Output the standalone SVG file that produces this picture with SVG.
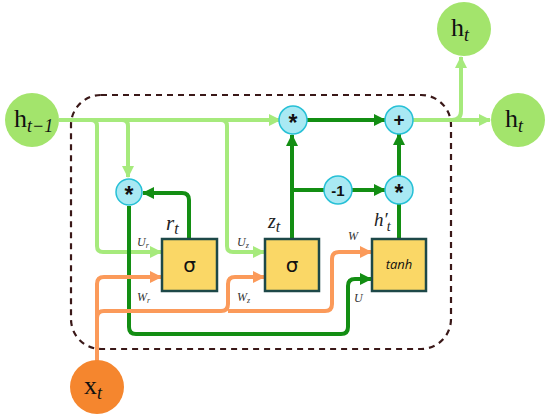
<svg xmlns="http://www.w3.org/2000/svg" width="550" height="417" viewBox="0 0 550 417">
<style>
.lg{fill:none;stroke:#a6ea7c;stroke-width:4}
.dg{fill:none;stroke:#138e13;stroke-width:4}
.or{fill:none;stroke:#fb9a5a;stroke-width:4}
.hc{fill:#a3e46c}
.op{fill:#a9e9f3;stroke:#27c0d6;stroke-width:1.5}
.box{fill:#fad766;stroke:#1d4848;stroke-width:2.5}
.opt{font-family:"Liberation Sans",Arial,sans-serif;font-weight:bold;font-size:17px;text-anchor:middle;fill:#111}
.star{font-size:23px}
.big{font-family:"Liberation Serif","DejaVu Serif",serif;font-size:26px;fill:#111}
.sub{font-style:italic;font-size:18px}
.lab{font-family:"Liberation Serif","DejaVu Serif",serif;font-style:italic;fill:#222}
.sm{font-family:"Liberation Serif","DejaVu Serif",serif;font-style:italic;font-size:12px;fill:#333}
</style>
<defs>
<marker id="aL" viewBox="0 0 12 12" markerWidth="12" markerHeight="12" refX="11" refY="6" orient="auto" markerUnits="userSpaceOnUse"><path d="M0,0 L12,6 L0,12 z" fill="#a6ea7c"/></marker>
<marker id="aD" viewBox="0 0 12 12" markerWidth="12" markerHeight="12" refX="11" refY="6" orient="auto" markerUnits="userSpaceOnUse"><path d="M0,0 L12,6 L0,12 z" fill="#138e13"/></marker>
<marker id="aO" viewBox="0 0 12 12" markerWidth="12" markerHeight="12" refX="11" refY="6" orient="auto" markerUnits="userSpaceOnUse"><path d="M0,0 L12,6 L0,12 z" fill="#fb9a5a"/></marker>
</defs>
<rect x="71" y="95" width="380" height="254" rx="30" ry="30" fill="none" stroke="#3a1818" stroke-width="2.2" stroke-dasharray="6 5"/>
<g id="connectors">
<path class="lg" d="M59,120 H280" marker-end="url(#aL)"/>
<path class="lg" d="M91,120 Q97,120 97,126 V246 Q97,252 103,252 H161" marker-end="url(#aL)"/>
<path class="lg" d="M122,120 Q128,120 128,126 V177" marker-end="url(#aL)"/>
<path class="lg" d="M221,120 Q227,120 227,126 V246 Q227,252 233,252 H264" marker-end="url(#aL)"/>
<path class="lg" d="M413,120 H490" marker-end="url(#aL)"/>
<path class="lg" d="M452,120 Q461,120 461,111 V57" marker-end="url(#aL)"/>
<path class="dg" d="M189,239 V200 Q189,193 182,193 H143" marker-end="url(#aD)"/>
<path class="dg" d="M129,206 V327 Q129,334 136,334 H341 Q348,334 348,327 V286 Q348,279 355,279 H371" marker-end="url(#aD)"/>
<path class="dg" d="M292,239 V135" marker-end="url(#aD)"/>
<path class="dg" d="M292,190 H324"/>
<path class="dg" d="M352,190 H385" marker-end="url(#aD)"/>
<path class="dg" d="M307,120 H385" marker-end="url(#aD)"/>
<path class="dg" d="M399,176 V134" marker-end="url(#aD)"/>
<path class="dg" d="M399,239 V204"/>
<path class="or" d="M97,362 V284 Q97,277 104,277 H161" marker-end="url(#aO)"/>
<path class="or" d="M97,318 Q97,311 104,311 H221 Q228,311 228,304 V284 Q228,277 235,277 H264" marker-end="url(#aO)"/>
<path class="or" d="M228,311 H325 Q332,311 332,304 V259 Q332,252 339,252 H371" marker-end="url(#aO)"/>
</g>
<g id="h_prev"><circle class="hc" cx="32" cy="120" r="27"/><text class="big" x="14" y="127">h<tspan class="sub" dy="5">t−1</tspan></text></g>
<g id="h_out_top"><circle class="hc" cx="464" cy="29" r="27"/><text class="big" x="451" y="36">h<tspan class="sub" dy="5">t</tspan></text></g>
<g id="h_out_right"><circle class="hc" cx="518" cy="120" r="27"/><text class="big" x="505" y="127">h<tspan class="sub" dy="5">t</tspan></text></g>
<g id="x_t"><circle cx="97" cy="387" r="27" fill="#f5862e"/><text class="big" x="84" y="394">x<tspan class="sub" dy="5">t</tspan></text></g>
<g id="mul_r"><circle class="op" cx="129" cy="192" r="13"/><text class="opt star" x="129" y="203">*</text></g>
<g id="mul_z"><circle class="op" cx="293" cy="120" r="14"/><text class="opt star" x="293" y="131">*</text></g>
<g id="plus"><circle class="op" cx="399" cy="120" r="14"/><text class="opt" x="399" y="126" style="font-size:19px">+</text></g>
<g id="mul_h"><circle class="op" cx="399" cy="190" r="14"/><text class="opt star" x="399" y="201">*</text></g>
<g id="neg1"><circle class="op" cx="338" cy="190" r="14"/><text class="opt" x="338" y="196" style="font-size:15px">-1</text></g>
<g id="sigma_r"><rect class="box" x="162" y="239" width="55" height="52"/><text x="189.5" y="272" text-anchor="middle" font-family="'DejaVu Sans',sans-serif" font-size="20" fill="#111">σ</text><text class="lab" x="166" y="230" font-size="21">r<tspan font-size="16" dy="4">t</tspan></text></g>
<g id="sigma_z"><rect class="box" x="265" y="239" width="54" height="52"/><text x="292" y="272" text-anchor="middle" font-family="'DejaVu Sans',sans-serif" font-size="20" fill="#111">σ</text><text class="lab" x="268" y="228" font-size="20">z<tspan font-size="16" dy="4">t</tspan></text></g>
<g id="tanh"><rect class="box" x="372" y="239" width="54" height="52"/><text x="399" y="269" text-anchor="middle" font-family="'Open Sans','DejaVu Sans',sans-serif" font-style="italic" font-size="13" fill="#111">tanh</text><text class="lab" x="374" y="226" font-size="19">h′<tspan font-size="14" dx="-1" dy="5">t</tspan></text></g>
<g id="weights">
<text class="sm" x="137" y="246">U<tspan font-size="8" dy="2">r</tspan></text>
<text class="sm" x="237" y="246">U<tspan font-size="8" dy="2">z</tspan></text>
<text class="sm" x="137" y="301">W<tspan font-size="8" dy="2">r</tspan></text>
<text class="sm" x="237" y="301">W<tspan font-size="8" dy="2">z</tspan></text>
<text class="sm" x="348" y="240" font-size="14">W</text>
<text class="sm" x="354" y="302" font-size="13">U</text>
</g>
</svg>
